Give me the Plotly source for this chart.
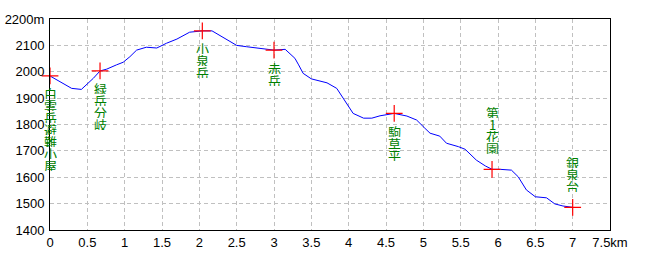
import plotly.graph_objects as go

# Elevation profile (distance km, elevation m)
dist_km = [0, 0.13, 0.22, 0.29, 0.42, 0.49, 0.58, 0.67, 0.76, 0.89, 0.98, 1.07, 1.16,
           1.29, 1.43, 1.56, 1.70, 1.87, 2.04, 2.17, 2.37, 2.50, 2.63, 2.81, 3.0, 3.15,
           3.28, 3.33, 3.39, 3.50, 3.71, 3.84, 3.97, 4.06, 4.20, 4.31, 4.42, 4.61, 4.78,
           4.91, 5.02, 5.09, 5.22, 5.31, 5.47, 5.56, 5.71, 5.83, 5.92, 6.03, 6.18, 6.27,
           6.38, 6.50, 6.65, 6.76, 6.87, 7.0]
elev_m = [1984, 1962, 1946, 1937, 1933, 1950, 1975, 2003, 2010, 2026, 2036, 2057, 2082,
          2093, 2090, 2108, 2124, 2150, 2155, 2155, 2120, 2100, 2095, 2089, 2082, 2085,
          2051, 2026, 1994, 1973, 1958, 1937, 1880, 1842, 1824, 1824, 1833, 1842, 1832,
          1817, 1786, 1767, 1756, 1729, 1716, 1706, 1665, 1643, 1630, 1630, 1627, 1602,
          1552, 1526, 1522, 1499, 1491, 1486]

# Waypoints
place_names = ["白雲岳避難小屋", "緑岳分岐", "小泉岳", "赤岳", "駒草平", "第1花園", "銀泉台"]
place_km = [0, 0.67, 2.04, 3.0, 4.61, 5.92, 7.0]
place_elev = [1984, 2003, 2155, 2082, 1842, 1630, 1486]
label_side = ["below", "below", "below", "below", "below", "above", "above"]

# Axis ticks
x_ticks = [0, 0.5, 1, 1.5, 2, 2.5, 3, 3.5, 4, 4.5, 5, 5.5, 6, 6.5, 7, 7.5]
x_tick_labels = ["0", "0.5", "1", "1.5", "2", "2.5", "3", "3.5", "4", "4.5", "5",
                 "5.5", "6", "6.5", "7", "7.5km"]
y_ticks = [1400, 1500, 1600, 1700, 1800, 1900, 2000, 2100, 2200]
y_tick_labels = ["1400", "1500", "1600", "1700", "1800", "1900", "2000", "2100", "2200m"]

fig = go.Figure()
fig.add_trace(go.Scatter(x=dist_km, y=elev_m, mode="lines",
                         line=dict(color="#0000ff", width=1), hoverinfo="skip"))
fig.add_trace(go.Scatter(x=place_km, y=place_elev, mode="markers", cliponaxis=False,
                         marker=dict(symbol="cross-thin", size=12,
                                     line=dict(color="#ff0000", width=1.2)),
                         hoverinfo="skip"))

annotations = []
step = 12
for name, xk, ye, side in zip(place_names, place_km, place_elev, label_side):
    chars = list(name)
    n = len(chars)
    for i, ch in enumerate(chars):
        if side == "below":
            ys = -(18 + step * i)
        else:
            ys = 21 + step * (n - 1 - i)
        annotations.append(dict(x=xk, y=ye, xref="x", yref="y", text=ch,
                                showarrow=False, yshift=ys, xanchor="center",
                                yanchor="middle", height=11, borderpad=0,
                                font=dict(family="Noto Sans CJK JP", size=13,
                                          color="#008000")))

tick_font = dict(family="Liberation Sans Narrow, Liberation Sans, Arial", size=13,
                 color="#000000")
fig.update_layout(
    width=650, height=260,
    margin=dict(l=50, r=40, t=19, b=30, autoexpand=False),
    paper_bgcolor="white", plot_bgcolor="white",
    showlegend=False,
    annotations=annotations,
    xaxis=dict(range=[0, 7.5], tickvals=x_ticks, ticktext=x_tick_labels,
               showgrid=True, gridcolor="#c0c0c0", griddash="4px,3px", gridwidth=1,
               showline=True, linecolor="black", linewidth=1, mirror=True,
               zeroline=False, ticks="", tickfont=tick_font, fixedrange=True,
               automargin=False),
    yaxis=dict(range=[1400, 2200], tickvals=y_ticks, ticktext=y_tick_labels,
               showgrid=True, gridcolor="#c0c0c0", griddash="4px,3px", gridwidth=1,
               showline=True, linecolor="black", linewidth=1, mirror=True,
               zeroline=False, ticks="", tickfont=tick_font, fixedrange=True,
               automargin=False, ticklabelstandoff=2),
)

fig.write_html("out.html")
